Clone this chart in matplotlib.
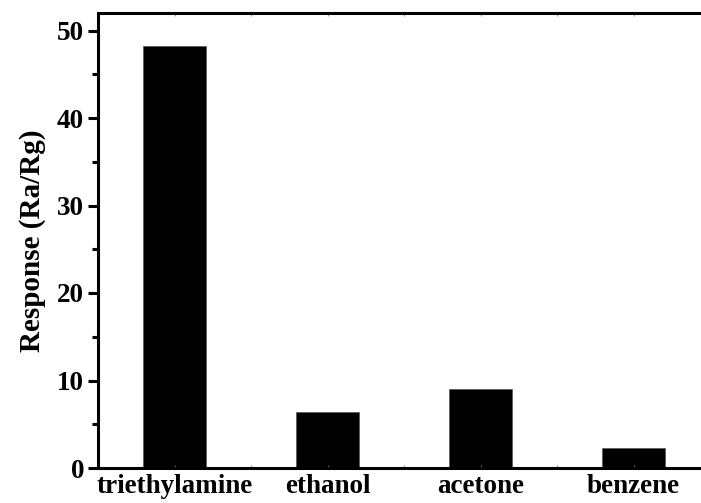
import numpy as np
import matplotlib
matplotlib.use("Agg")
import matplotlib.pyplot as plt
from matplotlib.ticker import MultipleLocator

gases = ['triethylamine', 'ethanol', 'acetone', 'benzene']
response = [48.2, 6.4, 9.0, 2.3]

plt.rcParams['font.family'] = ['Liberation Serif', 'DejaVu Serif']
plt.rcParams['font.weight'] = 'bold'

fig = plt.figure(figsize=(7.01, 5.03), dpi=100)
ax = fig.add_axes([98 / 701, 35 / 503, 612 / 701, 455 / 503])

x = np.arange(1, len(gases) + 1)
ax.bar(x, response, width=0.41, color='black', edgecolor='#555555', linewidth=0.5)

ax.set_xlim(0.5, 4.5)
ax.set_ylim(0, 52)
ax.set_xticks(x)
ax.set_xticklabels(gases, fontsize=19.5, fontweight='bold')
ax.xaxis.set_minor_locator(MultipleLocator(0.5))
ax.yaxis.set_major_locator(MultipleLocator(10))
ax.yaxis.set_minor_locator(MultipleLocator(5))
for lab in ax.get_yticklabels():
    lab.set_fontsize(19.5)
    lab.set_fontweight('bold')

for s in ax.spines.values():
    s.set_linewidth(2.2)

ax.tick_params(axis='y', which='major', direction='out', length=7, width=2.2, pad=3, right=False)
ax.tick_params(axis='y', which='minor', direction='out', length=4, width=2.2, right=False)
ax.tick_params(axis='x', which='both', direction='in', length=2, width=0.6, color='#777777',
               top=True, pad=4)

ax.set_ylabel('Response (Ra/Rg)', fontsize=21, fontweight='bold', labelpad=8)

fig.savefig('out.png', dpi=100)
